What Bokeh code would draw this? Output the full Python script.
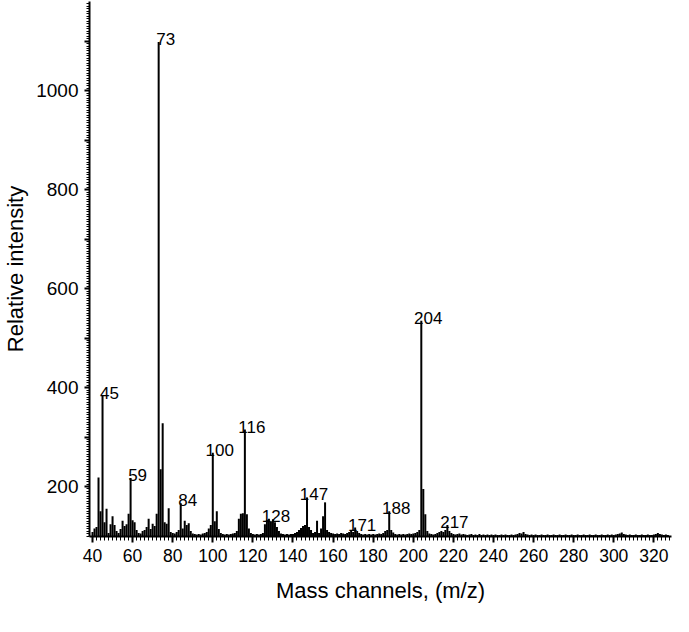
from bokeh.plotting import figure
from bokeh.models import Range1d, FixedTicker, ColumnDataSource
from bokeh.embed import file_html
from bokeh.resources import INLINE
from bokeh.core.properties import value

# ---- data: relative intensity per integer mass channel, m/z 40 .. 327 ----
MZ_FIRST = 40
INTENSITY = [
    108, 115, 118, 218, 150, 383, 128, 155, 106, 124,   # 40-49
    140, 122, 110, 106, 114, 131, 120, 124, 145, 217,   # 50-59
    132, 128, 112, 106, 105, 110, 112, 118, 135, 114,   # 60-69
    125, 120, 145, 1098, 235, 328, 128, 125, 156, 108,  # 70-79
    106, 105, 108, 112, 166, 115, 131, 122, 126, 110,   # 80-89
    105, 104, 103, 104, 103, 105, 106, 108, 115, 122,   # 90-99
    268, 130, 150, 114, 106, 104, 103, 104, 103, 104,   # 100-109
    105, 106, 110, 135, 145, 146, 315, 144, 115, 106,   # 110-119
    104, 103, 104, 103, 104, 106, 124, 133, 135, 130,   # 120-129
    134, 128, 118, 110, 105, 104, 103, 104, 103, 104,   # 130-139
    104, 106, 108, 112, 116, 120, 122, 178, 118, 112,   # 140-149
    106, 108, 131, 106, 115, 140, 168, 112, 108, 106,   # 150-159
    105, 104, 105, 104, 106, 105, 104, 106, 108, 110,   # 160-169
    108, 117, 110, 106, 104, 103, 104, 103, 104, 103,   # 170-179
    104, 103, 104, 105, 104, 106, 110, 112, 150, 112,   # 180-189
    107, 104, 103, 104, 103, 104, 103, 104, 105, 104,   # 190-199
    105, 106, 108, 112, 535, 195, 144, 110, 105, 104,   # 200-209
    103, 104, 106, 108, 110, 108, 112, 122, 110, 106,   # 210-219
    104, 103, 104, 105, 103, 104, 103, 102, 103, 104,   # 220-229
    102, 103, 102, 104, 102, 103, 102, 103, 102, 103,   # 230-239
    102, 103, 102, 102, 103, 102, 103, 102, 102, 103,   # 240-249
    102, 103, 104, 106, 105, 108, 104, 103, 102, 103,   # 250-259
    102, 103, 102, 102, 103, 102, 102, 103, 102, 102,   # 260-269
    103, 102, 102, 103, 102, 102, 103, 102, 102, 103,   # 270-279
    102, 102, 103, 102, 102, 103, 102, 102, 103, 102,   # 280-289
    102, 103, 102, 102, 103, 102, 102, 103, 102, 103,   # 290-299
    102, 103, 104, 105, 107, 104, 103, 102, 103, 102,   # 300-309
    102, 103, 102, 102, 103, 102, 102, 103, 102, 102,   # 310-319
    103, 104, 106, 104, 103, 102, 103, 102,             # 320-327
]
MZ = list(range(MZ_FIRST, MZ_FIRST + len(INTENSITY)))

LABELED_MZ = [45, 59, 73, 84, 100, 116, 128, 147, 171, 188, 204, 217]

X_TICKS = [40, 60, 80, 100, 120, 140, 160, 180, 200, 220, 240, 260, 280, 300, 320]
Y_TICKS = [200, 300, 400, 500, 600, 700, 800, 900, 1000, 1100]
Y_UNLABELED = [300, 500, 700, 900, 1100]

X_MIN, X_MAX = 38.5, 328.8
Y_MIN, Y_MAX = 99, 1180
BASELINE = Y_MIN

FONT = "Liberation Sans"

src = ColumnDataSource(dict(mz=MZ, inten=INTENSITY))
lab_int = [INTENSITY[m - MZ_FIRST] for m in LABELED_MZ]
lab_src = ColumnDataSource(dict(mz=LABELED_MZ, inten=lab_int,
                                txt=[str(m) for m in LABELED_MZ]))

p = figure(width=679, height=622, output_backend="svg", toolbar_location=None,
           x_range=Range1d(X_MIN, X_MAX), y_range=Range1d(Y_MIN, Y_MAX),
           min_border_left=81, min_border_right=8, min_border_top=1,
           min_border_bottom=86)
p.outline_line_color = None
p.grid.visible = False
p.background_fill_color = "white"
p.border_fill_color = "white"

p.segment(x0="mz", y0=BASELINE, x1="mz", y1="inten", source=src,
          line_width=2, line_color="black")

p.text(x="mz", y="inten", text="txt", source=lab_src,
       text_font=value(FONT), text_font_size=value("17px"),
       text_align="center", text_baseline="alphabetic",
       x_offset=7, y_offset=-3, text_color="black")

# x axis
x_minor = [v / 1.0 for v in range(38, 330, 2)]
p.xaxis.ticker = FixedTicker(ticks=X_TICKS, minor_ticks=x_minor)
p.xaxis.axis_line_width = 2
p.xaxis.axis_line_color = "black"
p.xaxis.major_tick_line_width = 2
p.xaxis.major_tick_line_color = "black"
p.xaxis.major_tick_out = 6
p.xaxis.major_tick_in = 0
p.xaxis.minor_tick_out = 4
p.xaxis.minor_tick_in = 0
p.xaxis.minor_tick_line_width = 1
p.xaxis.minor_tick_line_color = "black"
p.xaxis.major_label_text_font = FONT
p.xaxis.major_label_text_font_size = "17.5px"
p.xaxis.major_label_text_color = "black"
p.xaxis.major_label_standoff = 6
p.xaxis.axis_label = "Mass channels, (m/z)"
p.xaxis.axis_label_text_font = FONT
p.xaxis.axis_label_text_font_size = "22px"
p.xaxis.axis_label_text_font_style = "normal"
p.xaxis.axis_label_text_color = "black"
p.xaxis.axis_label_standoff = 13

# y axis
y_minor = list(range(100, 1180, 5))
p.yaxis.ticker = FixedTicker(ticks=Y_TICKS, minor_ticks=y_minor)
p.yaxis.major_label_overrides = {v: "" for v in Y_UNLABELED}
p.yaxis.axis_line_width = 2
p.yaxis.axis_line_color = "black"
p.yaxis.major_tick_line_width = 2
p.yaxis.major_tick_line_color = "black"
p.yaxis.major_tick_out = 5
p.yaxis.major_tick_in = 0
p.yaxis.minor_tick_out = 3
p.yaxis.minor_tick_in = 0
p.yaxis.minor_tick_line_width = 1
p.yaxis.minor_tick_line_color = "black"
p.yaxis.major_label_text_font = FONT
p.yaxis.major_label_text_font_size = "19px"
p.yaxis.major_label_text_color = "black"
p.yaxis.major_label_standoff = 6
p.yaxis.axis_label = "Relative intensity"
p.yaxis.axis_label_text_font = FONT
p.yaxis.axis_label_text_font_size = "22px"
p.yaxis.axis_label_text_font_style = "normal"
p.yaxis.axis_label_text_color = "black"
p.yaxis.axis_label_standoff = 5

open("out.html", "w").write(file_html(p, INLINE))
